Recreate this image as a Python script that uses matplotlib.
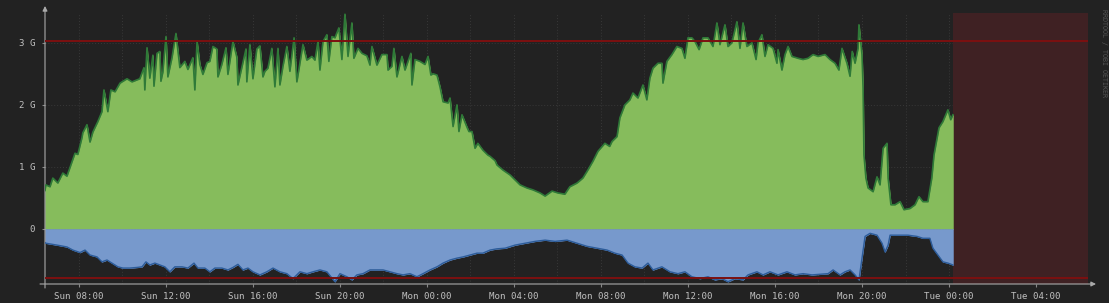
import matplotlib
matplotlib.use("Agg")
import matplotlib.pyplot as plt

# hours since Sun 00:00, values in G
green_t = [6.44, 6.48, 6.67, 6.80, 7.03, 7.26, 7.45, 7.68, 7.82, 7.95,
           8.14, 8.18, 8.37, 8.51, 8.64, 8.87, 9.06, 9.15, 9.33, 9.47,
           9.66, 9.89, 10.21, 10.44, 10.80, 10.99, 11.03, 11.13, 11.26, 11.40,
           11.45, 11.59, 11.72, 11.77, 11.86, 12.00, 12.09, 12.28, 12.46, 12.64,
           12.87, 13.01, 13.24, 13.33, 13.43, 13.56, 13.70, 13.89, 14.02, 14.16,
           14.34, 14.39, 14.57, 14.76, 14.85, 15.08, 15.26, 15.31, 15.49, 15.68,
           15.72, 15.86, 16.00, 16.18, 16.32, 16.46, 16.55, 16.69, 16.87, 17.01,
           17.15, 17.24, 17.38, 17.56, 17.70, 17.89, 18.02, 18.16, 18.30, 18.48,
           18.71, 18.85, 18.99, 19.08, 19.22, 19.40, 19.49, 19.63, 19.77, 19.95,
           20.09, 20.23, 20.37, 20.55, 20.64, 20.83, 21.01, 21.24, 21.38, 21.47,
           21.70, 21.93, 22.16, 22.21, 22.39, 22.48, 22.62, 22.85, 22.99, 23.26,
           23.31, 23.45, 23.68, 23.91, 24.05, 24.18, 24.28, 24.46, 24.60, 24.74,
           24.97, 25.06, 25.20, 25.38, 25.47, 25.61, 25.84, 25.93, 26.07, 26.21,
           26.34, 26.57, 26.80, 26.90, 27.13, 27.22, 27.49, 27.82, 28.05, 28.28,
           28.60, 28.87, 29.20, 29.43, 29.75, 30.02, 30.34, 30.57, 30.90, 31.17,
           31.40, 31.63, 31.86, 32.18, 32.40, 32.51, 32.74, 32.87, 33.10, 33.33,
           33.47, 33.70, 33.93, 34.11, 34.25, 34.39, 34.62, 34.80, 34.85, 35.03,
           35.26, 35.49, 35.72, 35.86, 36.00, 36.18, 36.32, 36.51, 36.69, 36.92,
           37.15, 37.33, 37.47, 37.70, 37.84, 38.02, 38.25, 38.39, 38.53, 38.71,
           38.94, 39.13, 39.22, 39.40, 39.54, 39.68, 39.91, 40.09, 40.14, 40.32,
           40.46, 40.60, 40.78, 41.06, 41.29, 41.52, 41.75, 41.98, 42.30, 42.53,
           42.76, 42.94, 43.08, 43.31, 43.45, 43.55, 43.68, 43.82, 43.86, 44.00,
           44.05, 44.09, 44.18, 44.28, 44.51, 44.69, 44.83, 44.97, 45.15, 45.20,
           45.33, 45.52, 45.75, 45.93, 46.21, 46.44, 46.62, 46.80, 47.03, 47.21,
           47.31, 47.45, 47.54, 47.72, 47.95, 48.08, 48.18]
green_v = [0.62, 0.71, 0.68, 0.82, 0.74, 0.90, 0.85, 1.08, 1.22, 1.20,
           1.47, 1.55, 1.68, 1.40, 1.56, 1.73, 1.89, 2.24, 1.89, 2.24,
           2.21, 2.35, 2.42, 2.37, 2.42, 2.60, 2.24, 2.92, 2.43, 2.80,
           2.30, 2.83, 2.86, 2.38, 2.53, 3.10, 2.45, 2.76, 3.15, 2.60,
           2.70, 2.57, 2.76, 2.24, 3.02, 2.65, 2.49, 2.68, 2.70, 2.94,
           2.90, 2.45, 2.65, 2.92, 2.49, 3.02, 2.77, 2.32, 2.60, 2.90,
           2.37, 2.97, 2.42, 2.90, 2.95, 2.45, 2.54, 2.59, 2.91, 2.29,
           2.91, 2.32, 2.62, 2.94, 2.54, 3.08, 2.37, 2.67, 2.97, 2.72,
           2.78, 2.72, 3.02, 2.56, 3.02, 3.13, 2.70, 3.10, 3.08, 3.24,
           2.73, 3.46, 2.78, 3.32, 2.75, 2.91, 2.83, 2.79, 2.64, 2.94,
           2.64, 2.81, 2.81, 2.56, 2.62, 2.91, 2.45, 2.78, 2.56, 2.83,
           2.32, 2.73, 2.70, 2.65, 2.78, 2.48, 2.50, 2.48, 2.29, 2.05,
           2.03, 2.11, 1.65, 2.00, 1.57, 1.84, 1.64, 1.57, 1.57, 1.30,
           1.38, 1.27, 1.19, 1.17, 1.10, 1.03, 0.95, 0.87, 0.79, 0.71,
           0.66, 0.63, 0.58, 0.53, 0.61, 0.58, 0.56, 0.68, 0.74, 0.82,
           0.95, 1.09, 1.25, 1.38, 1.33, 1.41, 1.49, 1.79, 2.00, 2.08,
           2.19, 2.11, 2.32, 2.08, 2.43, 2.59, 2.67, 2.67, 2.35, 2.70,
           2.81, 2.94, 2.91, 2.75, 3.08, 3.08, 3.02, 2.89, 3.08, 3.08,
           2.94, 3.32, 2.97, 3.29, 2.94, 3.00, 3.34, 2.91, 3.32, 2.94,
           3.00, 2.73, 3.00, 3.13, 2.78, 2.97, 2.91, 2.67, 2.89, 2.56,
           2.81, 2.94, 2.78, 2.75, 2.73, 2.75, 2.81, 2.78, 2.81, 2.73,
           2.67, 2.56, 2.91, 2.67, 2.46, 2.86, 2.67, 2.91, 3.29, 2.81,
           2.27, 1.19, 0.82, 0.66, 0.60, 0.84, 0.71, 1.30, 1.38, 0.82,
           0.39, 0.39, 0.44, 0.31, 0.33, 0.39, 0.52, 0.44, 0.44, 0.82,
           1.19, 1.46, 1.63, 1.73, 1.92, 1.76, 1.84]

blue_t = [6.44, 6.48, 6.99, 7.45, 7.72, 8.05, 8.28, 8.51, 8.83, 9.06,
          9.29, 9.52, 9.79, 10.02, 10.34, 10.67, 10.90, 11.08, 11.26, 11.49,
          11.72, 11.95, 12.18, 12.41, 12.74, 13.01, 13.29, 13.47, 13.79, 14.02,
          14.25, 14.57, 14.85, 15.08, 15.31, 15.54, 15.77, 16.00, 16.32, 16.64,
          16.92, 17.24, 17.56, 17.84, 18.16, 18.48, 18.76, 19.08, 19.40, 19.77,
          20.00, 20.32, 20.55, 20.78, 21.06, 21.38, 21.70, 21.98, 22.30, 22.62,
          22.90, 23.22, 23.54, 23.82, 24.14, 24.46, 24.74, 25.06, 25.38, 25.66,
          25.98, 26.30, 26.57, 26.90, 27.22, 27.59, 28.05, 28.51, 28.97, 29.43,
          29.89, 30.44, 30.90, 31.36, 31.82, 32.28, 32.64, 32.97, 33.24, 33.56,
          33.89, 34.16, 34.39, 34.80, 35.17, 35.54, 35.86, 36.18, 36.55, 36.92,
          37.24, 37.56, 37.84, 38.16, 38.53, 38.76, 39.17, 39.45, 39.77, 40.14,
          40.55, 40.92, 41.29, 41.70, 42.07, 42.44, 42.67, 42.99, 43.22, 43.45,
          43.68, 43.86, 44.00, 44.14, 44.37, 44.69, 44.92, 45.06, 45.20, 45.29,
          45.66, 46.11, 46.53, 46.80, 47.12, 47.26, 47.49, 47.72, 47.95, 48.18]
blue_v = [-0.22, -0.23, -0.26, -0.29, -0.34, -0.38, -0.34, -0.42, -0.45, -0.53,
          -0.50, -0.55, -0.61, -0.63, -0.63, -0.62, -0.61, -0.53, -0.58, -0.55,
          -0.58, -0.61, -0.69, -0.61, -0.61, -0.63, -0.55, -0.63, -0.63, -0.69,
          -0.63, -0.63, -0.66, -0.62, -0.57, -0.66, -0.63, -0.69, -0.74, -0.69,
          -0.63, -0.69, -0.72, -0.80, -0.69, -0.72, -0.69, -0.66, -0.69, -0.85,
          -0.72, -0.77, -0.82, -0.74, -0.72, -0.66, -0.66, -0.66, -0.69, -0.72,
          -0.74, -0.72, -0.77, -0.72, -0.66, -0.61, -0.55, -0.50, -0.47, -0.45,
          -0.42, -0.39, -0.39, -0.34, -0.32, -0.31, -0.26, -0.23, -0.20, -0.18,
          -0.20, -0.18, -0.23, -0.28, -0.31, -0.34, -0.39, -0.42, -0.55, -0.61,
          -0.63, -0.55, -0.66, -0.61, -0.69, -0.72, -0.69, -0.77, -0.80, -0.77,
          -0.82, -0.80, -0.85, -0.80, -0.82, -0.74, -0.69, -0.74, -0.69, -0.74,
          -0.69, -0.74, -0.72, -0.74, -0.73, -0.72, -0.66, -0.74, -0.69, -0.66,
          -0.74, -0.82, -0.47, -0.12, -0.07, -0.10, -0.23, -0.37, -0.26, -0.10,
          -0.10, -0.10, -0.12, -0.15, -0.15, -0.31, -0.42, -0.53, -0.55, -0.58]

x_ticks = [8, 12, 16, 20, 24, 28, 32, 36, 40, 44, 48, 52]
x_labels = ["Sun 08:00", "Sun 12:00", "Sun 16:00", "Sun 20:00",
            "Mon 00:00", "Mon 04:00", "Mon 08:00", "Mon 12:00",
            "Mon 16:00", "Mon 20:00", "Tue 00:00", "Tue 04:00"]
y_ticks = [0, 1, 2, 3]
y_labels = ["0", "1 G", "2 G", "3 G"]
upper_limit = 3.03
lower_limit = -0.79
future_start = 48.18

W, H = 1109, 303
BG = "#222222"
fig = plt.figure(figsize=(W / 100, H / 100), dpi=100, facecolor=BG)
ax = fig.add_axes([45 / W, 1 - 284 / H, (1088 - 45) / W, (284 - 13) / H])
ax.set_facecolor(BG)
ax.set_xlim(6.44, 54.39)
ax.set_ylim(-0.887, 3.48)

# dotted grid, every 2 hours / every G
for h in range(8, 55, 2):
    ax.axvline(h, color="#383838", lw=0.7, ls=(0, (1, 2)), zorder=1)
for v in y_ticks:
    ax.axhline(v, color="#383838", lw=0.7, ls=(0, (1, 2)), zorder=1)

ax.axvspan(future_start, 54.39, color="#3f2123", lw=0, zorder=2)

ax.fill_between(green_t, 0, green_v, color="#86bc5c", lw=0.4, edgecolor="#86bc5c", zorder=3)
ax.plot(green_t, green_v, color="#2f7a38", lw=1.2, zorder=4)
ax.fill_between(blue_t, 0, blue_v, color="#7799cc", lw=0.4, edgecolor="#7799cc", zorder=3)
ax.plot(blue_t, blue_v, color="#2c5c9a", lw=1.0, zorder=4)

ax.axhline(upper_limit, color="#7c1010", lw=1.4, zorder=5)
ax.axhline(lower_limit, color="#7c1010", lw=1.4, zorder=5)

for s in ax.spines.values():
    s.set_visible(False)

ax.set_xticks(x_ticks)
ax.set_xticklabels(x_labels, family="DejaVu Sans Mono", fontsize=6.6, color="#c0c0c0")
ax.set_yticks(y_ticks)
ax.set_yticklabels(y_labels, family="DejaVu Sans Mono", fontsize=6.6, color="#c0c0c0")
ax.tick_params(axis="x", length=2, color="#888888", pad=4)
ax.tick_params(axis="y", length=2, color="#888888", pad=5)

# axis lines with arrows
ax.annotate("", xy=(1096 / W, 1 - 284 / H), xytext=(40 / W, 1 - 284 / H),
            xycoords="figure fraction", textcoords="figure fraction",
            arrowprops=dict(arrowstyle="-|>", color="#aaaaaa", lw=0.8,
                            mutation_scale=7, shrinkA=0, shrinkB=0))
ax.annotate("", xy=(45 / W, 1 - 6 / H), xytext=(45 / W, 1 - 288 / H),
            xycoords="figure fraction", textcoords="figure fraction",
            arrowprops=dict(arrowstyle="-|>", color="#aaaaaa", lw=0.8,
                            mutation_scale=7, shrinkA=0, shrinkB=0))

fig.text(1104 / W, 1 - 53 / H, "RRDTOOL / TOBI OETIKER", rotation=270,
         ha="center", va="center", family="DejaVu Sans Mono",
         fontsize=4.8, color="#555555")

fig.savefig("out.png", dpi=100, facecolor=BG)
